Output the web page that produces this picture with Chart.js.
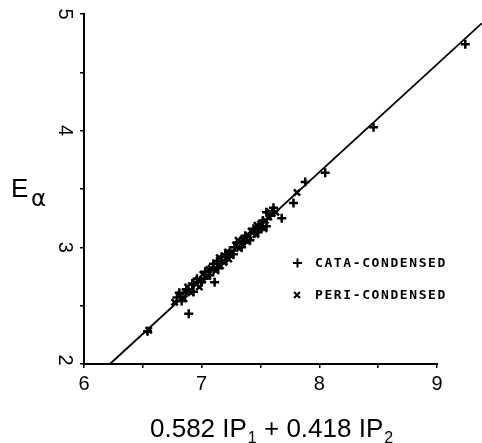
<!DOCTYPE html>
<html><head><meta charset="utf-8">
<script src="https://cdn.jsdelivr.net/npm/chart.js@4/dist/chart.umd.min.js"></script>
<style>html,body{margin:0;padding:0;background:#fff;}canvas{display:block}</style>
</head><body>
<canvas id="c" width="482" height="443"></canvas>
<script>
// ---- data ----
const cataX = [6.54, 6.79, 6.81, 6.83, 6.87, 6.89, 6.92, 6.93, 6.96, 7.00, 7.02, 7.03, 7.07, 7.10, 7.11, 7.13, 7.14, 7.17, 7.20, 7.21, 7.24, 7.27, 7.28, 7.30, 7.34, 7.36, 7.37, 7.41, 7.44, 7.45, 7.48, 7.50, 7.52, 7.55, 7.55, 7.58, 7.61, 7.68, 7.78, 7.88, 8.05, 8.46, 9.24];
const cataY = [2.28, 2.57, 2.61, 2.54, 2.64, 2.43, 2.69, 2.62, 2.73, 2.70, 2.73, 2.79, 2.76, 2.86, 2.70, 2.88, 2.82, 2.92, 2.94, 2.89, 2.97, 2.94, 3.00, 3.04, 3.00, 3.04, 3.10, 3.06, 3.16, 3.12, 3.13, 3.17, 3.23, 3.18, 3.30, 3.27, 3.34, 3.25, 3.38, 3.56, 3.64, 4.03, 4.74];
const periX = [6.55, 6.77, 6.81, 6.85, 6.86, 6.88, 6.91, 6.95, 6.97, 6.98, 7.01, 7.05, 7.06, 7.08, 7.12, 7.15, 7.16, 7.19, 7.22, 7.23, 7.25, 7.29, 7.31, 7.32, 7.35, 7.39, 7.40, 7.42, 7.46, 7.47, 7.50, 7.53, 7.54, 7.57, 7.58, 7.60, 7.63, 7.81];
const periY = [2.29, 2.53, 2.59, 2.56, 2.62, 2.66, 2.61, 2.69, 2.72, 2.66, 2.77, 2.75, 2.81, 2.82, 2.80, 2.91, 2.84, 2.87, 2.96, 2.90, 2.93, 3.02, 3.06, 2.99, 3.07, 3.05, 3.10, 3.14, 3.11, 3.19, 3.20, 3.16, 3.23, 3.26, 3.30, 3.29, 3.30, 3.47];
const fitX = [6.22, 9.38];
const fitY = [2.00, 4.92];
const xTickLabels = [6, 7, 8, 9];
const yTickLabels = [2, 3, 4, 5];
const legendLabels = ['CATA-CONDENSED', 'PERI-CONDENSED'];
const yTitle = ['E', 'α'];
const xTitle = ['0.582 IP', '1', ' + 0.418 IP', '2'];

const pts = (xs, ys) => xs.map((x, i) => ({x: x, y: ys[i]}));
const xAxisEnd = xTickLabels[xTickLabels.length - 1];
const isLabelled = v => xTickLabels.some(t => Math.abs(t - v) < 1e-6);

const decor = {
  id: 'decor',
  afterDraw(chart) {
    const ctx = chart.ctx;
    const xs = chart.scales.x, ys = chart.scales.y;
    ctx.save();
    // x axis line (stops at last tick)
    ctx.strokeStyle = '#000';
    ctx.lineWidth = 2;
    ctx.beginPath();
    const by = ys.getPixelForValue(yTickLabels[0]);
    ctx.moveTo(xs.getPixelForValue(xTickLabels[0]) - 1, by);
    ctx.lineTo(xs.getPixelForValue(xAxisEnd) + 1, by);
    ctx.stroke();

    ctx.fillStyle = '#000';
    // y tick labels, rotated
    ctx.font = '20px "Liberation Sans"';
    ctx.textAlign = 'center';
    ctx.textBaseline = 'middle';
    yTickLabels.forEach(v => {
      const py = ys.getPixelForValue(v);
      ctx.save();
      ctx.translate(65, v === yTickLabels[0] ? py - 4 : py);
      ctx.rotate(Math.PI / 2);
      ctx.fillText(String(v), 0, 0);
      ctx.restore();
    });
    // y title
    ctx.textAlign = 'left';
    ctx.textBaseline = 'alphabetic';
    ctx.font = '26px "Liberation Sans"';
    ctx.fillText(yTitle[0], 11, 197);
    ctx.font = '23px "DejaVu Sans"';
    ctx.fillText(yTitle[1], 31, 206);
    // x title
    let x = 150;
    const big = '26px "Liberation Sans"', small = '16px "Liberation Sans"';
    ctx.font = big; ctx.fillText(xTitle[0], x, 437); x += ctx.measureText(xTitle[0]).width + 1;
    ctx.font = small; ctx.fillText(xTitle[1], x, 443); x += ctx.measureText(xTitle[1]).width;
    ctx.font = big; ctx.fillText(xTitle[2], x, 437); x += ctx.measureText(xTitle[2]).width + 1;
    ctx.font = small; ctx.fillText(xTitle[3], x, 443);
    // legend
    ctx.font = 'bold 13px "DejaVu Sans Mono"';
    try { ctx.letterSpacing = '1.6px'; } catch (e) {}
    ctx.textBaseline = 'middle';
    const rows = [263, 295];
    ctx.lineWidth = 2;
    rows.forEach((ry, i) => {
      ctx.beginPath();
      if (i === 0) {
        ctx.moveTo(293, ry); ctx.lineTo(302, ry);
        ctx.moveTo(297.5, ry - 4.5); ctx.lineTo(297.5, ry + 4.5);
      } else {
        ctx.moveTo(294, ry - 3); ctx.lineTo(300, ry + 3);
        ctx.moveTo(300, ry - 3); ctx.lineTo(294, ry + 3);
      }
      ctx.stroke();
      ctx.fillText(legendLabels[i], 315, ry + 1);
    });
    ctx.restore();
  }
};

const grid = {drawOnChartArea: false, drawTicks: true, tickLength: 4, color: '#000', lineWidth: 1.5};

new Chart(document.getElementById('c'), {
  type: 'scatter',
  data: {
    datasets: [
      {type: 'line', label: 'fit', data: pts(fitX, fitY), borderColor: '#000', borderWidth: 1.8,
       pointRadius: 0, clip: false, tension: 0, fill: false},
      {label: legendLabels[0], data: pts(cataX, cataY), pointStyle: 'cross', pointRadius: 4.5,
       borderColor: '#000', backgroundColor: '#000', borderWidth: 2.5, clip: false},
      {label: legendLabels[1], data: pts(periX, periY), pointStyle: 'crossRot', pointRadius: 4.4,
       borderColor: '#000', backgroundColor: '#000', borderWidth: 2.5, clip: false}
    ]
  },
  options: {
    responsive: false, animation: false, devicePixelRatio: 1,
    layout: {autoPadding: false, padding: {left: 0, right: 0, top: 14, bottom: 0}},
    plugins: {legend: {display: false}, tooltip: {enabled: false}},
    scales: {
      x: {
        type: 'linear', min: 6, max: 9.382,
        grid: grid, border: {display: false},
        afterFit(s) { s.height = 79; s.paddingRight = 0; },
        afterBuildTicks(s) { s.ticks = s.ticks.filter(t => t.value <= xAxisEnd + 1e-6); },
        ticks: {stepSize: 0.5, includeBounds: false, autoSkip: false, maxRotation: 0, padding: 4, color: '#000',
          font: {family: 'Liberation Sans', size: 20},
          callback: v => isLabelled(v) ? String(Math.round(v)) : ''}
      },
      y: {
        type: 'linear', min: 2, max: 5,
        grid: grid, border: {display: true, color: '#000', width: 2},
        afterFit(s) { s.width = 84; },
        ticks: {stepSize: 0.5, display: false}
      }
    }
  },
  plugins: [decor]
});
</script>
</body></html>
